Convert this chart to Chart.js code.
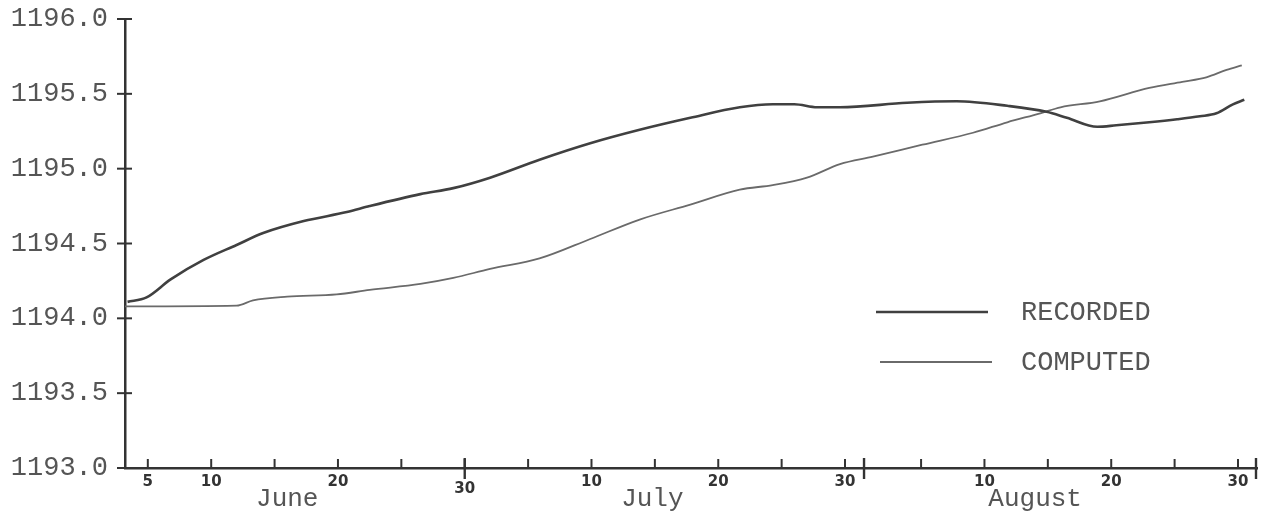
<!DOCTYPE html>
<html>
<head>
<meta charset="utf-8">
<script src="https://cdn.jsdelivr.net/npm/chart.js@4/dist/chart.umd.min.js"></script>
<style>
  html, body { margin: 0; padding: 0; background: #ffffff; }
  #wrap { width: 1264px; height: 518px; position: relative; }
</style>
</head>
<body>
<div id="wrap"><canvas id="c" width="1264" height="518"></canvas></div>
<script>
// Day numbers count from June 1 = 1 (July 1 = 31, August 1 = 62).
const recordedDays = [3.4, 4.9, 6.8, 9.4, 12.0, 14.1, 17.3, 20.7, 22.5, 26.5, 29.1, 32.0, 35.9, 39.9, 43.8, 47.8, 51.7, 54.3, 56.0, 57.8, 59.6, 64.9, 68.8, 72.8, 75.9, 77.5, 79.9, 81.4, 84.0, 86.2, 88.0, 89.3, 90.6, 91.5];
const recordedLevels = [1194.11, 1194.14, 1194.26, 1194.39, 1194.49, 1194.57, 1194.65, 1194.71, 1194.75, 1194.83, 1194.87, 1194.94, 1195.06, 1195.17, 1195.26, 1195.34, 1195.41, 1195.43, 1195.43, 1195.41, 1195.41, 1195.44, 1195.45, 1195.42, 1195.38, 1195.34, 1195.28, 1195.29, 1195.31, 1195.33, 1195.35, 1195.37, 1195.43, 1195.46];

const computedDays = [3.2, 12.0, 13.3, 16.0, 19.9, 22.5, 26.5, 29.1, 32.0, 35.9, 39.9, 43.8, 47.8, 51.7, 54.3, 57.0, 59.6, 62.2, 66.1, 70.1, 72.8, 75.4, 77.0, 80.1, 84.0, 86.6, 88.5, 90.1, 91.3];
const computedLevels = [1194.08, 1194.085, 1194.12, 1194.145, 1194.16, 1194.19, 1194.23, 1194.27, 1194.33, 1194.40, 1194.53, 1194.66, 1194.76, 1194.86, 1194.89, 1194.94, 1195.03, 1195.08, 1195.16, 1195.24, 1195.31, 1195.37, 1195.41, 1195.45, 1195.54, 1195.58, 1195.61, 1195.66, 1195.69];

// Axis ticks: every five days, labelled with the day of the month
const tickDays   = [5, 10, 15, 20, 25, 30, 35, 40, 45, 50, 55, 60, 66, 71, 76, 81, 86, 91];
const tickLabels = ['5', '10', '', '20', '', '30', '', '10', '', '20', '', '30', '', '10', '', '20', '', '30'];
const monthEnds  = [30, 61.5, 92.5];
const monthNames = ['June', 'July', 'August'];
const monthLabelDays = [16, 44.8, 75];
const levelTicks = [1193.0, 1193.5, 1194.0, 1194.5, 1195.0, 1195.5, 1196.0];

const seriesNames = ['RECORDED', 'COMPUTED'];
const seriesColors = ['#404040', '#6a6a6a'];
const seriesWidths = [2.6, 1.8];

const typeFont = '"Liberation Mono", "DejaVu Sans Mono", monospace';
const axisColor = '#333333';
const textColor = '#555555';

const toPoints = (xs, ys) => xs.map((x, i) => ({ x: x, y: ys[i] }));

// Tick marks crossing the axes, month-end marks, month names and the key
const decorations = {
  id: 'decorations',
  afterDraw(chart) {
    const ctx = chart.ctx;
    const xs = chart.scales.x, ys = chart.scales.y;
    const area = chart.chartArea;
    ctx.save();
    ctx.strokeStyle = axisColor;
    ctx.lineWidth = 2;
    ctx.lineCap = 'butt';
    // level ticks
    levelTicks.forEach(v => {
      const py = ys.getPixelForValue(v);
      ctx.beginPath();
      ctx.moveTo(area.left - 8, py);
      ctx.lineTo(area.left + 7, py);
      ctx.stroke();
    });
    // day ticks rise above the axis
    tickDays.forEach(d => {
      const px = xs.getPixelForValue(d);
      ctx.beginPath();
      ctx.moveTo(px, area.bottom);
      ctx.lineTo(px, area.bottom - 9);
      ctx.stroke();
    });
    // month ends cross the axis
    ctx.lineWidth = 2.4;
    monthEnds.forEach(d => {
      const px = Math.min(xs.getPixelForValue(d), area.right - 1);
      ctx.beginPath();
      ctx.moveTo(px, area.bottom - 10);
      ctx.lineTo(px, area.bottom + 11);
      ctx.stroke();
    });
    // month names
    ctx.fillStyle = textColor;
    ctx.font = '26px ' + typeFont;
    ctx.textAlign = 'center';
    ctx.textBaseline = 'middle';
    monthNames.forEach((m, i) => {
      ctx.fillText(m, xs.getPixelForValue(monthLabelDays[i]), 499);
    });
    // key
    ctx.font = '27px ' + typeFont;
    const keyY = [312, 362];
    const keyX = [[876, 988], [880, 992]];
    seriesNames.forEach((name, i) => {
      ctx.strokeStyle = seriesColors[i];
      ctx.lineWidth = seriesWidths[i];
      ctx.beginPath();
      ctx.moveTo(keyX[i][0], keyY[i]);
      ctx.lineTo(keyX[i][1], keyY[i]);
      ctx.stroke();
      ctx.fillStyle = textColor;
      ctx.textAlign = 'left';
      ctx.fillText(name, 1021, keyY[i] + 1);
    });
    ctx.restore();
  }
};

new Chart(document.getElementById('c'), {
  type: 'line',
  data: {
    datasets: [
      {
        label: seriesNames[0],
        data: toPoints(recordedDays, recordedLevels),
        borderColor: seriesColors[0],
        borderWidth: seriesWidths[0],
        pointRadius: 0,
        cubicInterpolationMode: 'monotone',
        fill: false
      },
      {
        label: seriesNames[1],
        data: toPoints(computedDays, computedLevels),
        borderColor: seriesColors[1],
        borderWidth: seriesWidths[1],
        pointRadius: 0,
        cubicInterpolationMode: 'monotone',
        fill: false
      }
    ]
  },
  options: {
    responsive: false,
    animation: false,
    devicePixelRatio: 1,
    layout: { padding: { left: 0, top: 19, right: 7, bottom: 0 } },
    plugins: { legend: { display: false }, tooltip: { enabled: false } },
    scales: {
      x: {
        type: 'linear',
        min: 3.2,
        max: 92.5,
        afterBuildTicks(scale) { scale.ticks = tickDays.map(v => ({ value: v })); },
        afterFit(scale) { scale.height = 50; scale.paddingLeft = 0; scale.paddingRight = 0; },
        grid: { display: false, drawTicks: false },
        border: { display: true, color: axisColor, width: 2.5 },
        ticks: {
          autoSkip: false,
          maxRotation: 0,
          padding: 10,
          color: '#333333',
          font: { family: '"DejaVu Sans", sans-serif', size: 15, weight: 'bold', lineHeight: 0.5 },
          callback(value, index) {
            const lbl = tickLabels[index];
            // the June 30 label sits below the month-end mark
            return index === 5 ? ['', lbl] : lbl;
          }
        }
      },
      y: {
        type: 'linear',
        min: 1193.0,
        max: 1196.0,
        afterBuildTicks(scale) { scale.ticks = levelTicks.map(v => ({ value: v })); },
        afterFit(scale) { scale.width = 125; scale.paddingTop = 0; scale.paddingBottom = 0; },
        grid: { display: false, drawTicks: false },
        border: { display: true, color: axisColor, width: 2.5 },
        ticks: {
          padding: 17,
          color: textColor,
          font: { family: typeFont, size: 27 },
          callback(value) { return Number(value).toFixed(1); }
        }
      }
    }
  },
  plugins: [decorations]
});
</script>
</body>
</html>
